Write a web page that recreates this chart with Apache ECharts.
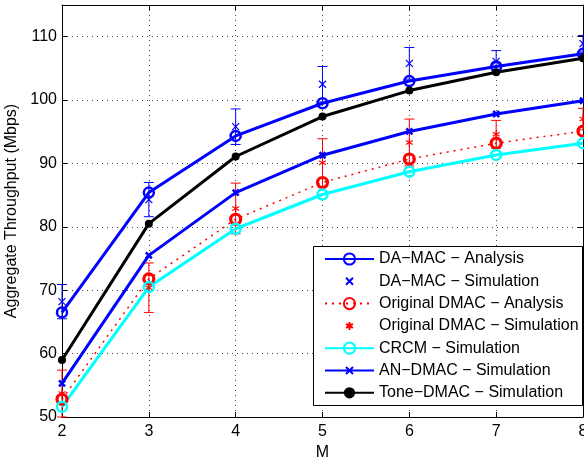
<!DOCTYPE html>
<html>
<head>
<meta charset="utf-8">
<script src="https://cdn.jsdelivr.net/npm/echarts@6/dist/echarts.min.js"></script>
<style>
html,body{margin:0;padding:0;background:#fff;}
#chart{width:584px;height:461px;}
</style>
</head>
<body>
<div id="chart"></div>
<script>
// ---- data ----
const M = [2, 3, 4, 5, 6, 7, 8];
const daMacAnalysis = [66.5, 85.4, 94.35, 99.5, 103.0, 105.3, 107.3];
const daMacSim = [68.2, 84.3, 95.8, 102.5, 105.8, 106.1, 108.9];
const daMacSimErr = [2.7, 2.7, 2.8, 2.8, 2.5, 1.7, 1.3];
const dmacAnalysis = [52.8, 71.8, 81.2, 87.0, 90.7, 93.2, 95.1];
const dmacSim = [53.7, 70.4, 82.9, 90.1, 93.3, 94.6, 97.0];
const dmacSimErr = [3.7, 3.9, 4.0, 3.8, 3.7, 2.2, 1.7];
const crcmSim = [51.6, 70.5, 79.7, 85.1, 88.7, 91.35, 93.2];
const anDmacSim = [55.3, 75.5, 85.4, 91.3, 95.05, 97.8, 99.9];
const toneDmacSim = [59.0, 80.5, 91.1, 97.4, 101.5, 104.4, 106.6];
const legendNames = [
  'DA\u2212MAC \u2212 Analysis',
  'DA\u2212MAC \u2212 Simulation',
  'Original DMAC \u2212 Analysis',
  'Original DMAC \u2212 Simulation',
  'CRCM \u2212 Simulation',
  'AN\u2212DMAC \u2212 Simulation',
  'Tone\u2212DMAC \u2212 Simulation'
];
const xAxisName = 'M';
const yAxisName = 'Aggregate Throughput (Mbps)';

// ---- helpers ----
const pairs = (vals) => M.map((m, i) => [m, vals[i]]);
const errData = (vals, err) => M.map((m, i) => [m, vals[i] - err[i], vals[i] + err[i]]);
function errRender(color) {
  return function (params, api) {
    const x = api.value(0), lo = api.value(1), hi = api.value(2);
    const pLo = api.coord([x, lo]);
    const pHi = api.coord([x, hi]);
    const w = 5;
    const st = { stroke: color, lineWidth: 1 };
    return {
      type: 'group',
      children: [
        { type: 'line', shape: { x1: pLo[0], y1: pLo[1], x2: pHi[0], y2: pHi[1] }, style: st },
        { type: 'line', shape: { x1: pHi[0] - w, y1: pHi[1], x2: pHi[0] + w, y2: pHi[1] }, style: st },
        { type: 'line', shape: { x1: pLo[0] - w, y1: pLo[1], x2: pLo[0] + w, y2: pLo[1] }, style: st }
      ]
    };
  };
}
// padded paths (move-only points enlarge the box, so the legend icons stay small)
const X_PATH = 'path://M-3,-3M0,0L10,10M10,0L0,10M13,13';
const STAR_PATH = 'path://M-2,-2M5,0L5,10M0.7,2.5L9.3,7.5M0.7,7.5L9.3,2.5M12,12';
const FONT = 'Liberation Sans, Arial, Helvetica, sans-serif';
const BLUE = '#0000ff', RED = '#ff0000', CYAN = '#00ffff', BLACK = '#000000';

const chart = echarts.init(document.getElementById('chart'), null, { renderer: 'canvas' });
const gridLine = { show: true, lineStyle: { color: '#444', width: 1, type: [1, 4] } };
const option = {
  animation: false,
  backgroundColor: '#fff',
  textStyle: { fontFamily: FONT },
  grid: { left: 62, right: 1, top: 5, bottom: 44, outerBoundsMode: 'none', containLabel: false },
  xAxis: [{
    type: 'value', min: 2, max: 8, interval: 1,
    name: xAxisName, nameLocation: 'middle', nameGap: 27,
    nameTextStyle: { fontSize: 16, color: '#000', fontFamily: FONT },
    axisLine: { lineStyle: { color: '#000', width: 1 } },
    axisTick: { inside: true, length: 5, lineStyle: { color: '#000' } },
    axisLabel: { fontSize: 16, color: '#000', margin: 7, fontFamily: FONT, hideOverlap: false },
    splitLine: gridLine
  }, {
    type: 'value', min: 2, max: 8, interval: 1, position: 'top',
    axisLine: { show: true, lineStyle: { color: '#000', width: 1 } },
    axisTick: { show: true, inside: true, length: 5, lineStyle: { color: '#000' } },
    axisLabel: { show: false }, splitLine: { show: false }
  }],
  yAxis: [{
    type: 'value', min: 50, max: 115, interval: 10,
    name: yAxisName, nameLocation: 'middle', nameGap: 39,
    nameTextStyle: { fontSize: 16, color: '#000', fontFamily: FONT },
    axisLine: { show: true, lineStyle: { color: '#000', width: 1 } },
    axisTick: { show: true, inside: true, length: 5, lineStyle: { color: '#000' } },
    axisLabel: { fontSize: 16, color: '#000', margin: 5, showMaxLabel: false, fontFamily: FONT },
    splitLine: gridLine
  }, {
    type: 'value', min: 50, max: 115, interval: 10, position: 'right',
    axisLine: { show: true, lineStyle: { color: '#000', width: 1 } },
    axisTick: { show: true, inside: true, length: 5, lineStyle: { color: '#000' } },
    axisLabel: { show: false }, splitLine: { show: false }
  }],
  legend: {
    orient: 'vertical', left: 313, top: 249,
    data: legendNames,
    itemWidth: 49, itemHeight: 14, itemGap: 6.3,
    padding: [2, 5, 2, 11],
    textStyle: { fontSize: 16, lineHeight: 16, color: '#000', fontFamily: FONT },
    z: 10
  },
  graphic: [{
    type: 'rect', z: 9, silent: true,
    shape: { x: 313.5, y: 246.5, width: 269, height: 159 },
    style: { fill: '#fff', stroke: '#000', lineWidth: 1 }
  }],
  series: [
    {
      name: legendNames[0], type: 'line', data: pairs(daMacAnalysis), z: 3,
      symbol: 'circle', symbolSize: 10,
      lineStyle: { color: BLUE, width: 3 },
      itemStyle: { color: 'transparent', borderColor: BLUE, borderWidth: 2.5 }
    },
    {
      type: 'custom', data: errData(daMacSim, daMacSimErr), renderItem: errRender(BLUE),
      encode: { x: 0, y: [1, 2] }, z: 3, silent: true
    },
    {
      name: legendNames[1], type: 'line', data: pairs(daMacSim), z: 3,
      symbol: X_PATH, symbolSize: 11.2,
      lineStyle: { width: 0, opacity: 0 },
      itemStyle: { color: 'transparent', borderColor: BLUE, borderWidth: 1.2 }
    },
    {
      name: legendNames[2], type: 'line', data: pairs(dmacAnalysis), z: 3,
      symbol: 'circle', symbolSize: 10,
      lineStyle: { color: RED, width: 1.5, type: [2, 5] },
      itemStyle: { color: 'transparent', borderColor: RED, borderWidth: 3.2 }
    },
    {
      type: 'custom', data: errData(dmacSim, dmacSimErr), renderItem: errRender(RED),
      encode: { x: 0, y: [1, 2] }, z: 3, silent: true
    },
    {
      name: legendNames[3], type: 'line', data: pairs(dmacSim), z: 3,
      symbol: STAR_PATH, symbolSize: 11.2,
      lineStyle: { width: 0, opacity: 0 },
      itemStyle: { color: 'transparent', borderColor: RED, borderWidth: 1.1 }
    },
    {
      name: legendNames[4], type: 'line', data: pairs(crcmSim), z: 3,
      symbol: 'circle', symbolSize: 10,
      lineStyle: { color: CYAN, width: 3 },
      itemStyle: { color: 'transparent', borderColor: CYAN, borderWidth: 2.5 }
    },
    {
      name: legendNames[5], type: 'line', data: pairs(anDmacSim), z: 3,
      symbol: X_PATH, symbolSize: 9.6,
      lineStyle: { color: BLUE, width: 3 },
      itemStyle: { color: 'transparent', borderColor: BLUE, borderWidth: 2.6 }
    },
    {
      name: legendNames[6], type: 'line', data: pairs(toneDmacSim), z: 3,
      symbol: 'circle', symbolSize: 8,
      lineStyle: { color: BLACK, width: 3 },
      itemStyle: { color: BLACK, borderColor: BLACK, borderWidth: 0 }
    }
  ]
};
chart.setOption(option);
</script>
</body>
</html>
